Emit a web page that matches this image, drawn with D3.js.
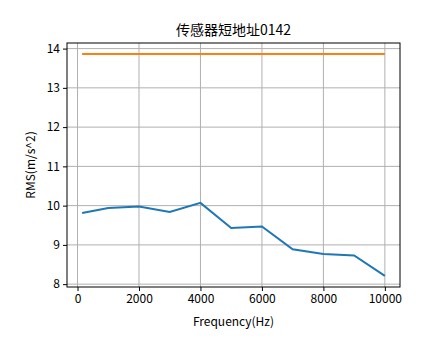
<!DOCTYPE html>
<html lang="zh">
<head>
<meta charset="UTF-8">
<title>传感器短地址0142</title>
<script src="https://d3js.org/d3.v7.min.js"></script>
<style>
  body { margin: 0; background: white; }
  text { font-family: "Noto Sans CJK SC", sans-serif; fill: black; }
</style>
</head>
<body>
<script>
// 数据
const freqs = [150, 1000, 2000, 3000, 4000, 5000, 6000, 7000, 8000, 9000, 10000];
const rmsValues = [9.81, 9.94, 9.98, 9.84, 10.07, 9.43, 9.47, 8.89, 8.77, 8.73, 8.21];
const limitValues = [13.86, 13.86, 13.86, 13.86, 13.86, 13.86, 13.86, 13.86, 13.86, 13.86, 13.86];
const xTicks = [0, 2000, 4000, 6000, 8000, 10000];
const yTicks = [8, 9, 10, 11, 12, 13, 14];

const width = 444, height = 359;
const plotL = 67, plotR = 400, plotT = 43, plotB = 287;

const svg = d3.select('body').append('svg')
    .attr('width', width).attr('height', height);

// matplotlib 风格 5% 边距
const xr = d3.max(freqs) - d3.min(freqs);
const allY = rmsValues.concat(limitValues);
const yr = d3.max(allY) - d3.min(allY);
const xScale = d3.scaleLinear()
    .domain([d3.min(freqs) - xr * 0.05, d3.max(freqs) + xr * 0.05])
    .range([plotL, plotR]);
const yScale = d3.scaleLinear()
    .domain([d3.min(allY) - yr * 0.05, d3.max(allY) + yr * 0.05])
    .range([plotB, plotT]);

// 网格
svg.append('g').selectAll('line').data(xTicks).enter().append('line')
    .attr('x1', d => xScale(d)).attr('x2', d => xScale(d))
    .attr('y1', plotT).attr('y2', plotB)
    .attr('stroke', '#b0b0b0').attr('stroke-width', 1);
svg.append('g').selectAll('line').data(yTicks).enter().append('line')
    .attr('y1', d => yScale(d)).attr('y2', d => yScale(d))
    .attr('x1', plotL).attr('x2', plotR)
    .attr('stroke', '#b0b0b0').attr('stroke-width', 1);

// 折线
const line = d3.line().x((d, i) => xScale(freqs[i])).y(d => yScale(d));
svg.append('path').datum(rmsValues).attr('d', line)
    .attr('fill', 'none').attr('stroke', '#1f77b4').attr('stroke-width', 2);
svg.append('path').datum(limitValues).attr('d', line)
    .attr('fill', 'none').attr('stroke', '#ff7f0e').attr('stroke-width', 2);

// 坐标轴
const xAxis = svg.append('g')
    .attr('transform', 'translate(0,' + plotB + ')')
    .call(d3.axisBottom(xScale).tickValues(xTicks).tickSize(4).tickPadding(3).tickFormat(d3.format('d')));
const yAxis = svg.append('g')
    .attr('transform', 'translate(' + plotL + ',0)')
    .call(d3.axisLeft(yScale).tickValues(yTicks).tickSize(4).tickPadding(3).tickFormat(d3.format('d')));
[xAxis, yAxis].forEach(a => {
    a.select('.domain').remove();
    a.selectAll('text').style('font-size', '12px').style('font-family', '"Noto Sans CJK SC", sans-serif');
    a.selectAll('line').attr('stroke', 'black');
});

// 边框
svg.append('rect')
    .attr('x', plotL).attr('y', plotT)
    .attr('width', plotR - plotL).attr('height', plotB - plotT)
    .attr('fill', 'none').attr('stroke', 'black').attr('stroke-width', 1);

// 标题和标签
svg.append('text').attr('x', (plotL + plotR) / 2).attr('y', 35)
    .attr('text-anchor', 'middle').style('font-size', '14px').text('传感器短地址0142');
svg.append('text').attr('x', (plotL + plotR) / 2).attr('y', 326)
    .attr('text-anchor', 'middle').style('font-size', '12px').text('Frequency(Hz)');
svg.append('text')
    .attr('transform', 'translate(35,' + (plotT + plotB) / 2 + ') rotate(-90)')
    .attr('text-anchor', 'middle').style('font-size', '12px').text('RMS(m/s^2)');
</script>
</body>
</html>
